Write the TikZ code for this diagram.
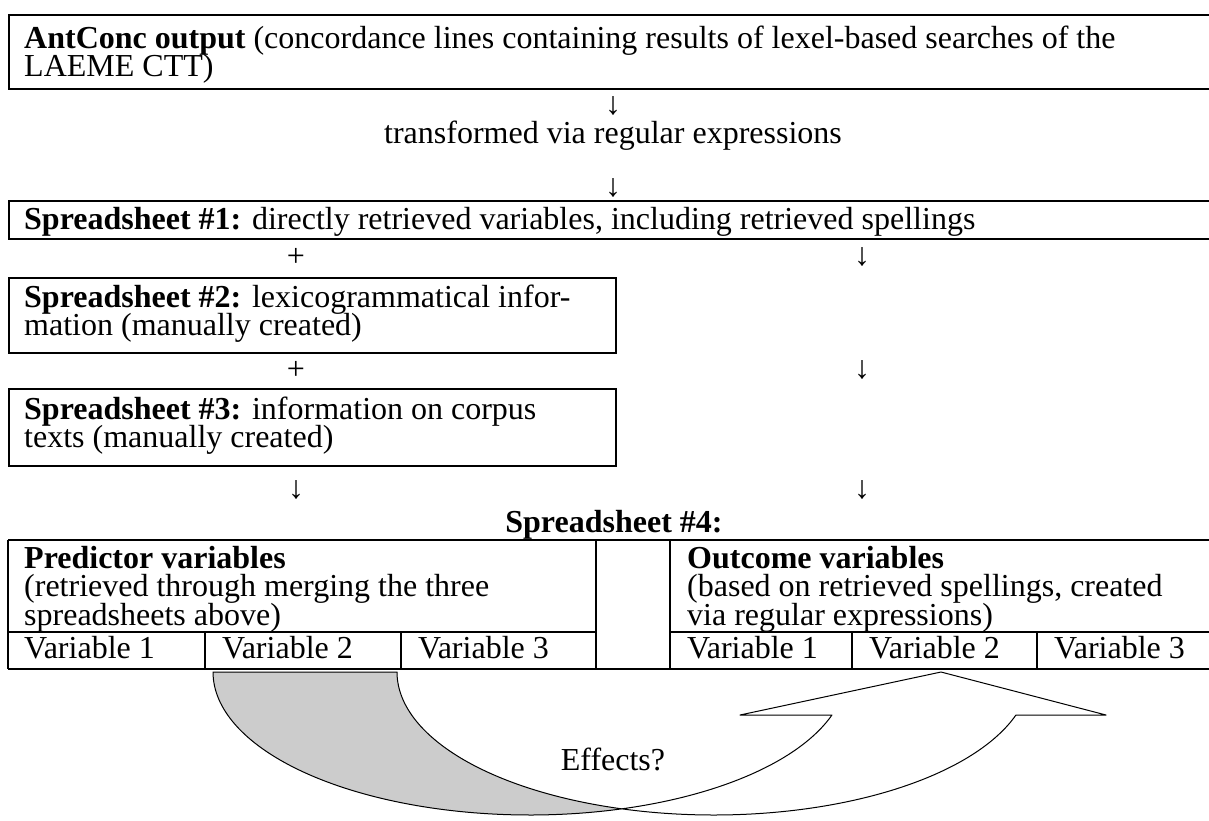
\documentclass[tikz,border=0pt]{standalone}
\usepackage{fontspec}
\setmainfont{Liberation Serif}
% body text: Times-metric serif with the tight "exact" line spacing of the figure
\newcommand{\body}{\fontsize{32}{28.5}\selectfont\lineskiplimit=-100pt\relax}
% fixes the height of a block's first line, so its first baseline sits 24pt below the block's top
\newcommand{\firstline}{\rule{0pt}{24pt}}
\begin{document}
\begin{tikzpicture}[x=1pt,y=-1pt,
  txt/.style={inner sep=0pt, anchor=base west, font=\body},
  para/.style={inner sep=0pt, anchor=north west, align=left, font=\body},
  ctxt/.style={inner sep=0pt, anchor=base, font=\body},
  glyph/.style={inner sep=0pt, anchor=center, font=\body},
  frame/.style={draw, line width=1.8pt, inner sep=0pt, anchor=north west},
  rule/.style={line width=1.5pt},
  band/.style={draw, line width=1pt, line join=round}]
\useasboundingbox (0,0) rectangle (1209,820);
\fill[white] (0,0) rectangle (1209,820);

% --- source: AntConc output ---
\node[frame, minimum width=1206pt, minimum height=74pt] (antconc) at (8,14) {};
\node[para] (antconcT) at (24,24) {\firstline\textbf{AntConc output} (concordance lines containing results of lexel-based searches of the\\LAEME CTT)};

\node[glyph] (dn1) at (613,106) {↓};
\node[ctxt] (transf) at (613,143) {transformed via regular expressions};
\node[glyph] (dn2) at (613,188) {↓};

% --- spreadsheet 1 ---
\node[frame, minimum width=1206pt, minimum height=38pt] (ss1) at (8,200) {};
\node[txt] (ss1t) at (24,229) {\textbf{Spreadsheet \#1:} directly retrieved variables, including retrieved spellings};

\node[glyph] (plus1) at (296,257) {+};
\node[glyph] (dnR1) at (862,257) {↓};

% --- spreadsheet 2 ---
\node[frame, minimum width=607pt, minimum height=75pt] (ss2) at (8,277) {};
\node[para] (ss2t) at (24,283) {\firstline\textbf{Spreadsheet \#2:} lexicogrammatical infor-\\mation (manually created)};

\node[glyph] (plus2) at (296,370) {+};
\node[glyph] (dnR2) at (862,370) {↓};

% --- spreadsheet 3 ---
\node[frame, minimum width=607pt, minimum height=77pt] (ss3) at (8,388) {};
\node[para] (ss3t) at (24,395) {\firstline\textbf{Spreadsheet \#3:} information on corpus\\texts (manually created)};

\node[glyph] (dnL3) at (296,490) {↓};
\node[glyph] (dnR3) at (862,490) {↓};

% --- spreadsheet 4: the table ---
\node[ctxt] (ss4) at (614,532) {\textbf{Spreadsheet \#4:}};

\draw[rule] (8,540) -- (1212,540);
\draw[rule] (8,669) -- (1212,669);
\draw[rule] (8,540) -- (8,669);
\draw[rule] (596,540) -- (596,669);
\draw[rule] (670,540) -- (670,669);
\draw[rule] (8,632) -- (596,632);
\draw[rule] (670,632) -- (1212,632);
\draw[rule] (205,632) -- (205,669);
\draw[rule] (401,632) -- (401,669);
\draw[rule] (852,632) -- (852,669);
\draw[rule] (1037,632) -- (1037,669);

\node[para] (pred) at (24,544) {\firstline\textbf{Predictor variables}\\(retrieved through merging the three\\spreadsheets above)};
\node[para] (outc) at (687,544) {\firstline\textbf{Outcome variables}\\(based on retrieved spellings, created\\via regular expressions)};

\node[txt] (pv1) at (24,658) {Variable 1};
\node[txt] (pv2) at (222,658) {Variable 2};
\node[txt] (pv3) at (418,658) {Variable 3};
\node[txt] (ov1) at (687,658) {Variable 1};
\node[txt] (ov2) at (869,658) {Variable 2};
\node[txt] (ov3) at (1054,658) {Variable 3};

% --- curved up arrow: shaded back band, then the white front band with its head ---
\filldraw[band, fill=gray!40]
  plot[domain=180:73.12, samples=80] ({529.8+316.8*cos(\x)},{672+143*sin(\x)})
  -- plot[domain=106.88:180, samples=80] ({713.8+316.8*cos(\x)},{672+143*sin(\x)})
  -- cycle;
\filldraw[band, fill=white]
  plot[domain=73.12:17.5, samples=80] ({529.8+316.8*cos(\x)},{672+143*sin(\x)})
  -- (740,715) -- (941,672) -- (1106,715)
  -- plot[domain=17.5:106.88, samples=80] ({713.8+316.8*cos(\x)},{672+143*sin(\x)})
  -- cycle;

\node[ctxt] (effects) at (613,770) {Effects?};
\end{tikzpicture}
\end{document}
